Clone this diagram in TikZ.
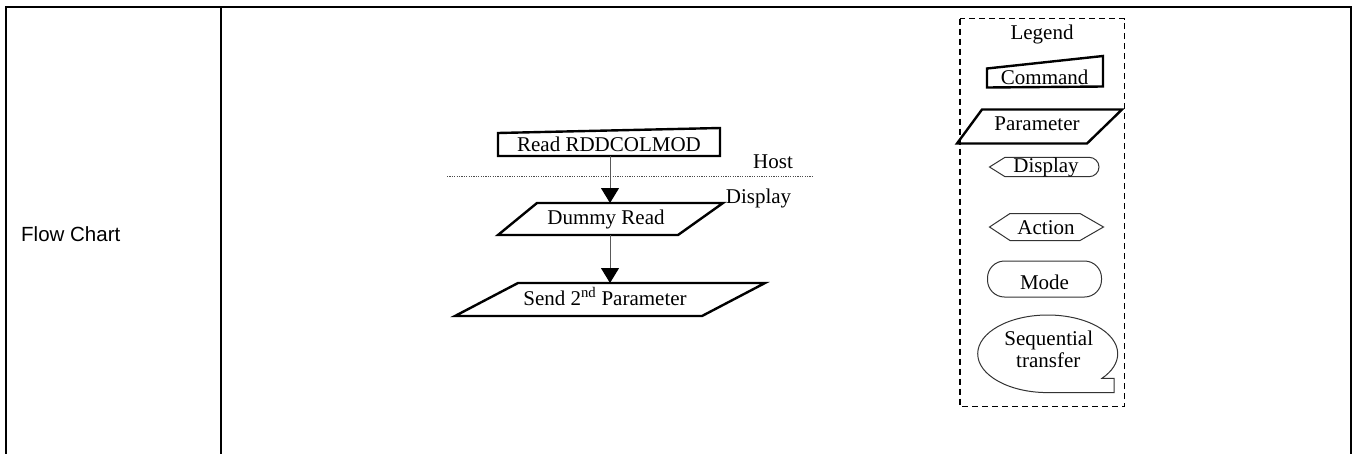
\documentclass[tikz,border=0pt]{standalone}
\usepackage{fontspec}
\setmainfont{Liberation Serif}
\newfontfamily\arialfont{Liberation Sans}
\usetikzlibrary{arrows.meta}
\tikzset{
  frameline/.style={line width=2pt, line cap=rect},
  thickshape/.style={draw=black, line width=2.4pt, line join=miter},
  thinshape/.style={draw=black!80, line width=1pt},
  lbl/.style={inner sep=0pt, anchor=base, font=\fontsize{21}{25}\selectfont},
  flowarrow/.style={draw=black!65, line width=1pt, -{Triangle[width=18pt,length=15pt,color=black]}},
}
\begin{document}
\begin{tikzpicture}[x=1pt,y=-1pt]
\path[use as bounding box] (0,0) rectangle (1357,453);
% table frame
\coordinate (tl) at (6,6.5);
\coordinate (tr) at (1351,6.5);
\coordinate (bl) at (6,460);
\coordinate (br) at (1351,460);
\coordinate (dt) at (221,6.5);
\coordinate (db) at (221,460);
\draw[frameline] (bl) -- (tl) -- (tr) -- (br);
\draw[frameline] (dt) -- (db);
\node[inner sep=0pt, anchor=base west, font=\arialfont\fontsize{20.5}{24}\selectfont] (fc) at (21,241.5) {Flow Chart};

% flow chart
\draw[thickshape] (498,133) -- (720,128) -- (720,156) -- (498,156) -- cycle;
\node[lbl] (cmd) at (609,151.5) {Read RDDCOLMOD};
\draw[thickshape] (537,203) -- (723,203) -- (678,235) -- (498,235) -- cycle;
\node[lbl] (dummy) at (606,224) {Dummy Read};
\draw[thickshape] (518,283) -- (765,283) -- (702,316) -- (455,316) -- cycle;
\node[lbl] (send) at (605,305) {Send 2\textsuperscript{nd} Parameter};

\coordinate (cmdB) at (610,156);
\coordinate (dumT) at (610,203);
\coordinate (dumB) at (610,235);
\coordinate (sendT) at (610,283);
\draw[flowarrow] (cmdB) -- (dumT);
\draw[flowarrow] (dumB) -- (sendT);

\coordinate (dl) at (447,176.7);
\coordinate (dr) at (813,176.7);
\draw[black!70, line width=1pt, dash pattern=on 1.2pt off 1.2pt] (dl) -- (dr);
\node[lbl] (host) at (773,168.3) {Host};
\node[lbl] (disp) at (758.5,203.3) {Display};

% legend
\draw[black, line width=1.3pt, dash pattern=on 6pt off 4pt] (960,18.5) rectangle (1124.5,406.5);
\node[lbl] (legend) at (1042,39.3) {Legend};
\draw[thickshape] (987,68.5) -- (1103,56) -- (1103,86.5) -- (987,87.5) -- cycle;
\node[lbl] (lcmd) at (1044.7,84) {Command};
\draw[thickshape] (982,109.5) -- (1122,109.5) -- (1087,143.5) -- (957,143.5) -- cycle;
\node[lbl] (lpar) at (1037,130) {Parameter};
\draw[thinshape] (989.5,167) -- (1005,157.3) -- (1089,157.3)
  arc[start angle=90, end angle=-90, x radius=10pt, y radius=9.7pt] -- (1005,176.7) -- cycle;
\node[lbl] (ldisp) at (1046,172.3) {Display};
\draw[thinshape] (989.5,227) -- (1010,213.5) -- (1080,213.5) -- (1103.5,227) -- (1080,240.5) -- (1010,240.5) -- cycle;
\node[lbl] (lact) at (1046,234.5) {Action};
\draw[thinshape, rounded corners=17pt] (987.5,261) rectangle (1101.5,297);
\node[lbl] (lmode) at (1044.5,289) {Mode};
\draw[thinshape] (1047.7,392.6) arc[start angle=-90, end angle=-399.1, x radius=70pt, y radius=38.8pt]
  -- (1114,378.3) -- (1114,392.6) -- cycle;
\node[lbl] (lseq1) at (1048.8,345) {Sequential};
\node[lbl] (lseq2) at (1048.3,367.3) {transfer};
\end{tikzpicture}
\end{document}
